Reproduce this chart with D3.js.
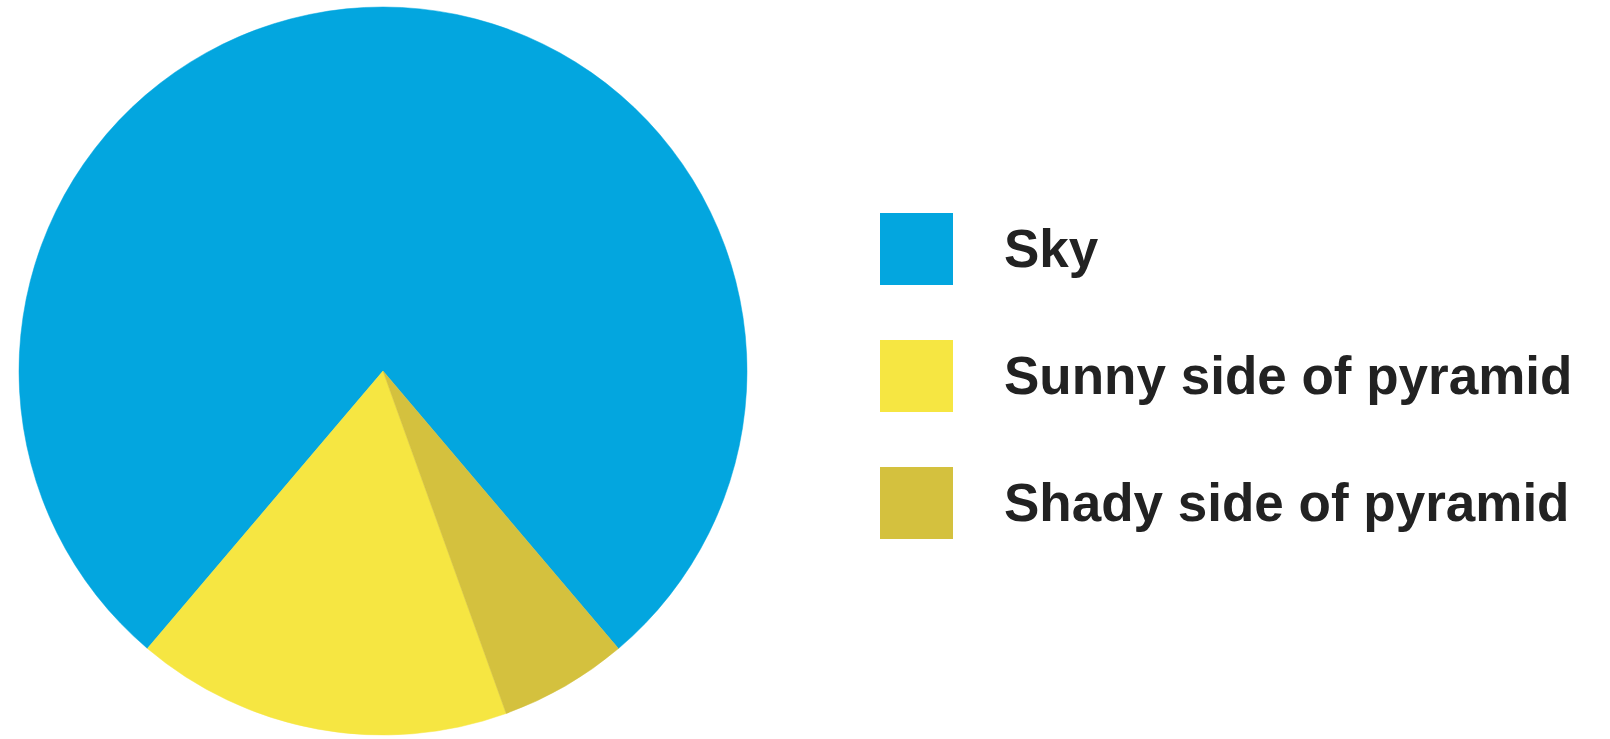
<!DOCTYPE html>
<html><head><meta charset="utf-8">
<script src="https://cdn.jsdelivr.net/npm/d3@7"></script>
<style>html,body{margin:0;padding:0;background:#fff;overflow:hidden}</style>
</head><body><svg id="chart" width="1610" height="739"></svg>
<script>
const categories = ["Sky", "Sunny side of pyramid", "Shady side of pyramid"];
const values = [77.6, 16.7, 5.7];
const colors = ["#03a6df", "#f6e642", "#d4c13e"];

const svg = d3.select("#chart");
const cx = 383, cy = 371, r = 364;
const start = 139.7 * Math.PI / 180;

const data = categories.map((c, i) => ({name: c, value: values[i], color: colors[i]}));
const pie = d3.pie().sort(null).value(d => d.value)
  .startAngle(start).endAngle(start - 2 * Math.PI);
const arc = d3.arc().innerRadius(0).outerRadius(r);

svg.append("g").attr("transform", `translate(${cx},${cy})`)
  .selectAll("path").data(pie(data)).join("path")
  .attr("d", arc).attr("fill", d => d.data.color)
  .attr("stroke", d => d.data.color).attr("stroke-width", 0.5);

const legendY = d3.scalePoint().domain(categories).range([249, 503]);
const lg = svg.append("g");
const item = lg.selectAll("g").data(data).join("g")
  .attr("transform", d => `translate(880,${legendY(d.name)})`);
item.append("rect").attr("x", 0).attr("y", -36).attr("width", 73).attr("height", 72)
  .attr("fill", d => d.color);
item.append("text").attr("x", 124).attr("y", 18)
  .attr("font-family", "Liberation Sans, Arial, sans-serif")
  .attr("font-weight", "bold").attr("font-size", 53).attr("fill", "#222")
  .text(d => d.name);
</script></body></html>
